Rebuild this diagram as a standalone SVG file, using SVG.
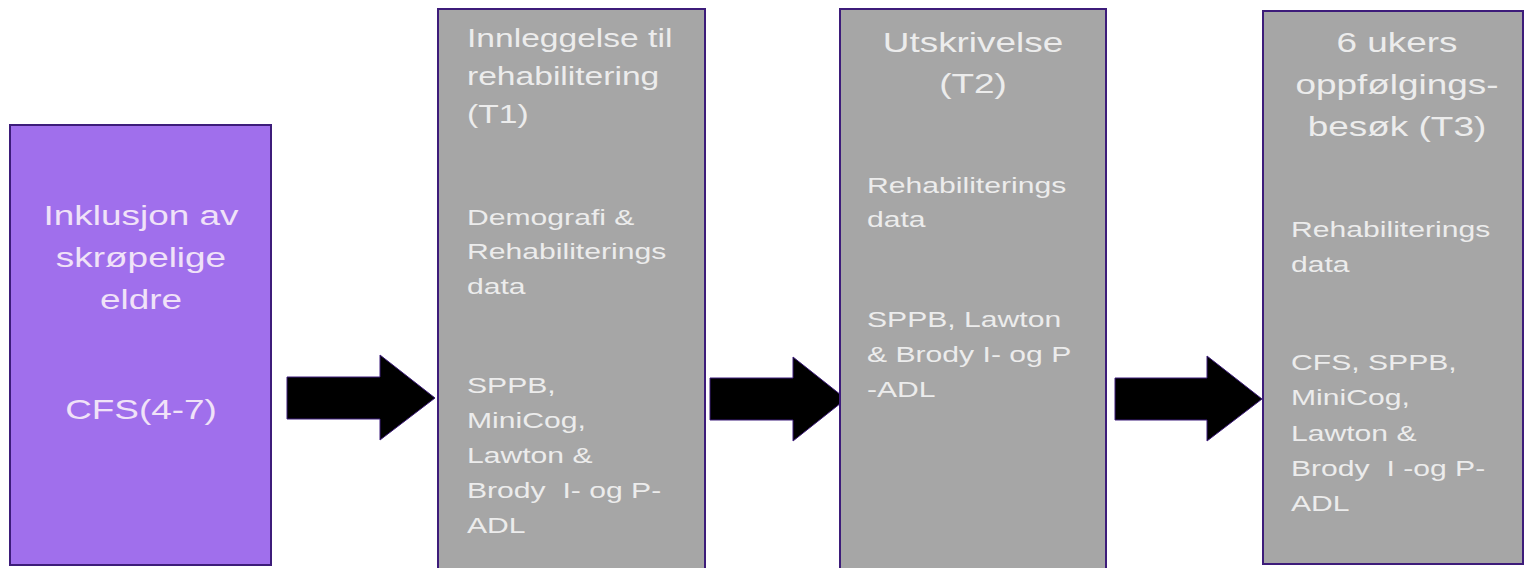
<svg xmlns="http://www.w3.org/2000/svg" width="1525" height="568" viewBox="0 0 1525 568">
<style>
.box{stroke:#3d1c7a;stroke-width:2}
.purple{fill:#a06fec}
.gray{fill:#a6a6a6}
text{font-family:"Liberation Sans",Arial,sans-serif;white-space:pre}
.t1{fill:#f0e2f8;font-size:27.7px;text-anchor:middle}
.tt{fill:#ececec;font-size:27.7px;text-anchor:middle}
.tt2{fill:#ececec;font-size:25.2px}
.tb{fill:#ececec;font-size:22.6px}
.arrow{fill:#000;stroke:#3d1c7a;stroke-width:1}
</style>
<rect width="1525" height="568" fill="#fff"/>
<g id="connectors">
<path class="arrow" d="M287,377 H380 V355 L435,398 L380,440 V419 H287 Z"/>
<path class="arrow" d="M710,378 H793 V357 L846,399 L793,441 V420 H710 Z"/>
<path class="arrow" d="M1115,378 H1207 V356 L1262,399 L1207,441 V420 H1115 Z"/>
</g>
<g id="node-inklusjon">
<rect class="box purple" x="10" y="125" width="261" height="440"/>
<g transform="translate(141 0) scale(1.333 1)">
<text class="t1" x="0" y="225">Inklusjon av</text>
<text class="t1" x="0" y="267">skrøpelige</text>
<text class="t1" x="0" y="309">eldre</text>
<text class="t1" x="0" y="419">CFS(4-7)</text>
</g>
</g>
<g id="node-t1">
<rect class="box gray" x="438" y="9" width="267" height="570"/>
<g transform="translate(467 0) scale(1.333 1)">
<text class="tt2" x="0" y="47">Innleggelse til</text>
<text class="tt2" x="0" y="85">rehabilitering</text>
<text class="tt2" x="0" y="123">(T1)</text>
<text class="tb" x="0" y="225">Demografi &amp;</text>
<text class="tb" x="0" y="259">Rehabiliterings</text>
<text class="tb" x="0" y="294">data</text>
<text class="tb" x="0" y="393">SPPB,</text>
<text class="tb" x="0" y="428">MiniCog,</text>
<text class="tb" x="0" y="463">Lawton &amp;</text>
<text class="tb" x="0" y="498">Brody  I- og P-</text>
<text class="tb" x="0" y="533">ADL</text>
</g>
</g>
<g id="node-t2">
<rect class="box gray" x="840" y="9" width="266" height="570"/>
<g transform="translate(973 0) scale(1.333 1)">
<text class="tt" x="0" y="52">Utskrivelse</text>
<text class="tt" x="0" y="93">(T2)</text>
</g>
<g transform="translate(867 0) scale(1.333 1)">
<text class="tb" x="0" y="193">Rehabiliterings</text>
<text class="tb" x="0" y="227">data</text>
<text class="tb" x="0" y="327">SPPB, Lawton</text>
<text class="tb" x="0" y="362">&amp; Brody I- og P</text>
<text class="tb" x="0" y="397">-ADL</text>
</g>
</g>
<g id="node-t3">
<rect class="box gray" x="1263" y="11" width="260" height="553"/>
<g transform="translate(1397 0) scale(1.333 1)">
<text class="tt" x="0" y="52">6 ukers</text>
<text class="tt" x="0" y="94">oppfølgings-</text>
<text class="tt" x="0" y="136">besøk (T3)</text>
</g>
<g transform="translate(1291 0) scale(1.333 1)">
<text class="tb" x="0" y="237">Rehabiliterings</text>
<text class="tb" x="0" y="272">data</text>
<text class="tb" x="0" y="370">CFS, SPPB,</text>
<text class="tb" x="0" y="405">MiniCog,</text>
<text class="tb" x="0" y="441">Lawton &amp;</text>
<text class="tb" x="0" y="476">Brody  I -og P-</text>
<text class="tb" x="0" y="511">ADL</text>
</g>
</g>
</svg>
